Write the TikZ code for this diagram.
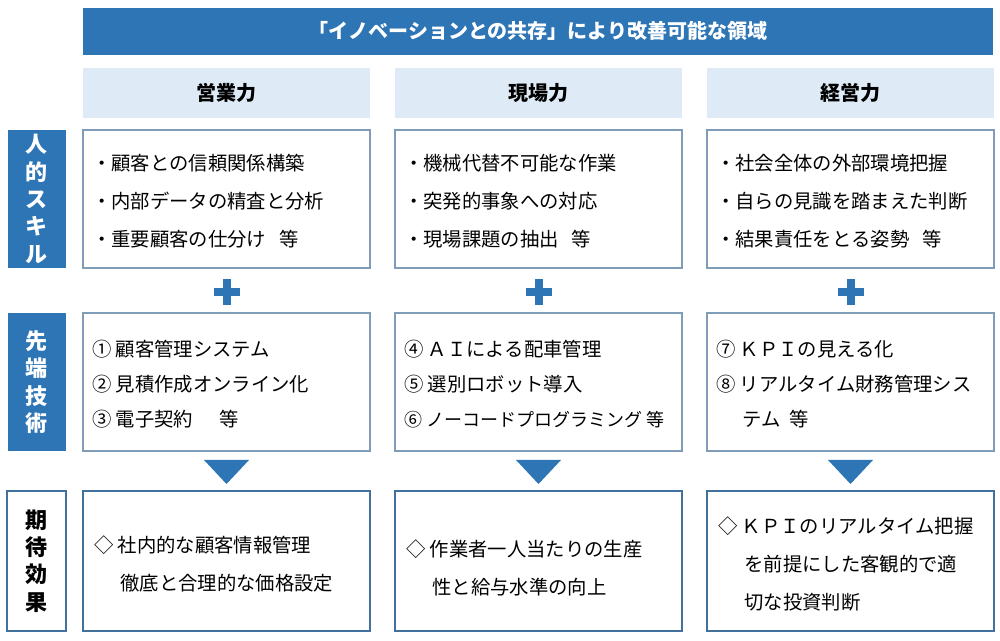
\documentclass[tikz,border=0pt]{standalone}
\usepackage{fontspec}
\setmainfont{Noto Sans CJK JP}
\definecolor{mblue}{HTML}{2E75B6}
\definecolor{lblue}{HTML}{DEEBF7}
\definecolor{bdr}{HTML}{41719C}
\definecolor{gbdr}{HTML}{7F9DB9}
\begin{document}
\begin{tikzpicture}[x=0.75pt,y=-0.75pt,
  banner/.style={fill=mblue,draw=none},
  headbox/.style={fill=lblue,draw=none},
  sidebox/.style={fill=mblue,draw=none},
  cbox/.style={draw=gbdr,line width=1pt,fill=white},
  ebox/.style={draw=bdr,line width=2.2pt,fill=white},
  txt/.style={anchor=north west,align=left,font=\fontsize{14.5}{28.5}\selectfont,inner sep=0pt},
  txtb/.style={anchor=north west,align=left,font=\fontsize{14.5}{26.3}\selectfont,inner sep=0pt},
  vtxt/.style={align=center,font=\bfseries\fontsize{16.5}{20.5}\selectfont},
  plus/.style={fill=mblue,draw=none},
  tri/.style={fill=mblue,draw=none}]
\useasboundingbox (0,0) rectangle (1000,641);
\fill[white] (0,0) rectangle (1000,641);
\fill[banner] (83,8) rectangle (993,55);
\node[text=white,font=\bfseries\fontsize{15}{18}\selectfont] (title) at (538,31) {「イノベーションとの共存」により改善可能な領域};
\foreach \x/\t/\n in {83/営業力/h1,395/現場力/h2,707/経営力/h3}{
  \fill[headbox] (\x,68) rectangle (\x+287,118);
  \node[font=\bfseries\fontsize{15}{18}\selectfont] (\n) at (\x+143.5,93) {\t};
}
\fill[sidebox] (8,130) rectangle (66,268);
\node[vtxt,text=white] (s1) at (37,199) {人\\的\\ス\\キ\\ル};
\fill[sidebox] (8,313) rectangle (66,451);
\node[vtxt,text=white] (s2) at (37,382) {先\\端\\技\\術};
\draw[ebox] (7,491) rectangle (66,631);
\node[vtxt,text=black] (s3) at (37,561) {期\\待\\効\\果};
\foreach \x in {83,395,707}{
  \draw[cbox] (\x,130) rectangle (\x+287,268);
  \draw[cbox] (\x,313) rectangle (\x+287,451);
  \draw[ebox] (\x,491) rectangle (\x+287,631);
  \fill[plus] (\x+139.5,279) rectangle (\x+147.5,305);
  \fill[plus] (\x+130.5,288) rectangle (\x+156.5,296);
  \fill[tri] (\x+121,460) -- (\x+166,460) -- (\x+143.5,484) -- cycle;
}
\node[txt] (a1) at (92,154) {・顧客との信頼関係構築\\・内部データの精査と分析\\・重要顧客の仕分け\ \ \ 等};
\node[txt] (a2) at (404,154) {・機械代替不可能な作業\\・突発的事象への対応\\・現場課題の抽出\ \ \ 等};
\node[txt] (a3) at (716,154) {・社会全体の外部環境把握\\・自らの見識を踏まえた判断\\・結果責任をとる姿勢\ \ \ 等};
\node[txtb] (b1) at (92,340) {① 顧客管理システム\\② 見積作成オンライン化\\③ 電子契約\ \ \ \ \ \ 等};
\node[txtb] (b2) at (404,340) {④ ＡＩによる配車管理\\⑤ 選別ロボット導入\\{\fontsize{13.5}{26.3}\selectfont ⑥ ノーコードプログラミング\ 等}};
\node[txtb] (b3) at (716,340) {⑦ ＫＰＩの見える化\\⑧ リアルタイム財務管理シス\\\hspace*{1.35em}テム\ \ 等};
\node[txt] (c1) at (94,535) {◇ 社内的な顧客情報管理\\\hspace*{1.35em}徹底と合理的な価格設定};
\node[txt] (c2) at (406,539) {◇ 作業者一人当たりの生産\\\hspace*{1.35em}性と給与水準の向上};
\node[txt] (c3) at (718,516) {◇ ＫＰＩのリアルタイム把握\\\hspace*{1.35em}を前提にした客観的で適\\\hspace*{1.35em}切な投資判断};
\end{tikzpicture}
\end{document}
